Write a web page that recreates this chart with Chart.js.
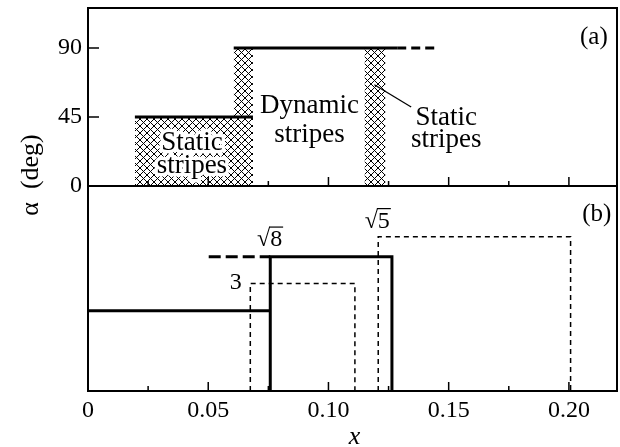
<!DOCTYPE html>
<html>
<head>
<meta charset="utf-8">
<script src="https://cdn.jsdelivr.net/npm/chart.js@4.4.1/dist/chart.umd.min.js"></script>
<style>
  html, body { margin: 0; padding: 0; background: #fff; }
  #wrap { width: 620px; height: 447px; }
</style>
</head>
<body>
<div id="wrap"><canvas id="chart" width="620" height="447"></canvas></div>
<script>
// panel (a): alpha (deg) vs x
const levelLow = [[0.0195, 45], [0.0686, 45]];
const levelHigh = [[0.0606, 90], [0.1286, 90]];
const levelHighDash = [[0.1286, 90], [0.146, 90]];
const hatchLeft = [[0.0195, 45], [0.0686, 45]];
const hatchMid = [[0.0606, 90], [0.0686, 90]];
const hatchRight = [[0.115, 90], [0.1237, 90]];
const leader = [[0.1191, 66], [0.1344, 51.5]];

// panel (b): stability boundaries (arbitrary units)
const solidLow = [[0, 0.392], [0.0758, 0.392]];
const solidBox = [[0.0758, 0], [0.0758, 0.655], [0.1264, 0.655], [0.1264, 0]];
const solidDash = [[0.0502, 0.655], [0.0758, 0.655]];
const box3 = [[0.0675, 0], [0.0675, 0.525], [0.111, 0.525], [0.111, 0]];
const boxSqrt5 = [[0.1207, 0], [0.1207, 0.753], [0.2007, 0.753], [0.2007, 0]];

const xTicks = [0, 0.025, 0.05, 0.075, 0.1, 0.125, 0.15, 0.175, 0.2];
const xTickLabels = ['0', '', '0.05', '', '0.10', '', '0.15', '', '0.20'];
const alphaTicks = [0, 45, 90];

const SERIF = '"Liberation Serif", "Times New Roman", serif';
const tickFont = { family: SERIF, size: 24 };

function makeHatch() {
  const c = document.createElement('canvas');
  c.width = 7; c.height = 7;
  const g = c.getContext('2d');
  g.strokeStyle = '#000';
  g.lineWidth = 1;
  g.beginPath();
  g.moveTo(-1, -1); g.lineTo(8, 8);
  g.moveTo(8, -1); g.lineTo(-1, 8);
  g.stroke();
  return g.createPattern(c, 'repeat');
}
const hatch = makeHatch();

const pts = arr => arr.map(([x, y]) => ({ x, y }));

function line(data, axis, extra) {
  return Object.assign({
    data: pts(data), yAxisID: axis, borderColor: '#000', borderWidth: 3,
    pointRadius: 0, fill: false, tension: 0
  }, extra);
}
function area(data) {
  return {
    data: pts(data), yAxisID: 'ya', borderColor: 'rgba(0,0,0,0)', borderWidth: 0,
    backgroundColor: hatch, pointRadius: 0, fill: 'origin', tension: 0
  };
}

// text in data coordinates
function txt(ctx, s, x, y, axis, chart, font, align) {
  const px = chart.scales.x.getPixelForValue(x);
  const py = chart.scales[axis].getPixelForValue(y);
  ctx.font = font;
  ctx.textAlign = align || 'center';
  ctx.fillStyle = '#000';
  ctx.fillText(s, px, py);
}
function haloTxt(ctx, s, x, y, chart, font) {
  const px = chart.scales.x.getPixelForValue(x);
  const py = chart.scales.ya.getPixelForValue(y);
  ctx.font = font;
  ctx.textAlign = 'center';
  ctx.lineJoin = 'round';
  ctx.strokeStyle = '#fff';
  ctx.lineWidth = 7;
  ctx.strokeText(s, px, py);
  ctx.fillStyle = '#000';
  ctx.fillText(s, px, py);
}
function rootTxt(ctx, n, x, y, chart) {
  ctx.font = '24px ' + SERIF;
  const px = chart.scales.x.getPixelForValue(x);
  const py = chart.scales.yb.getPixelForValue(y);
  const wr = ctx.measureText('\u221A').width;
  const wn = ctx.measureText(n).width;
  const left = px - (wr + wn) / 2;
  ctx.textAlign = 'left';
  ctx.fillStyle = '#000';
  ctx.fillText('\u221A', left, py);
  ctx.fillText(n, left + wr, py);
  const asc = ctx.measureText('\u221A').actualBoundingBoxAscent;
  ctx.strokeStyle = '#000';
  ctx.lineWidth = 1.2;
  ctx.beginPath();
  ctx.moveTo(left + wr - 1, py - asc + 0.6);
  ctx.lineTo(left + wr + wn + 1, py - asc + 0.6);
  ctx.stroke();
}

const decor = {
  id: 'decor',
  afterDatasetsDraw(chart) {
    const ctx = chart.ctx;
    ctx.save();
    ctx.textBaseline = 'alphabetic';
    const big = '27px ' + SERIF;
    haloTxt(ctx, 'Static', 0.0432, 23.5, chart, big);
    haloTxt(ctx, 'stripes', 0.0432, 8.5, chart, big);
    txt(ctx, 'Dynamic', 0.0921, 47.6, 'ya', chart, big);
    txt(ctx, 'stripes', 0.0921, 29, 'ya', chart, big);
    txt(ctx, 'Static', 0.149, 39.8, 'ya', chart, big);
    txt(ctx, 'stripes', 0.149, 25.4, 'ya', chart, big);
    ctx.textBaseline = 'middle';
    txt(ctx, '(a)', 0.2104, 96.5, 'ya', chart, '25px ' + SERIF);
    txt(ctx, '(b)', 0.2116, 0.863, 'yb', chart, '25px ' + SERIF);
    txt(ctx, '3', 0.0614, 0.527, 'yb', chart, '24px ' + SERIF);
    ctx.textBaseline = 'alphabetic';
    rootTxt(ctx, '8', 0.0755, 0.705, chart);
    rootTxt(ctx, '5', 0.1203, 0.795, chart);
    ctx.restore();
  },
  afterDraw(chart) {
    const ctx = chart.ctx;
    const a = chart.chartArea;
    const xs = chart.scales.x, ya = chart.scales.ya, yb = chart.scales.yb;
    ctx.save();
    ctx.strokeStyle = '#000';
    ctx.lineWidth = 2;
    ctx.strokeRect(a.left, a.top, a.right - a.left, a.bottom - a.top);
    ctx.beginPath();
    ctx.moveTo(a.left, ya.bottom);
    ctx.lineTo(a.right, ya.bottom);
    ctx.stroke();
    // inward ticks
    ctx.lineWidth = 1.5;
    ctx.beginPath();
    xTicks.forEach((v, i) => {
      const px = xs.getPixelForValue(v);
      const len = xTickLabels[i] ? 9 : 5;
      [ya.bottom, yb.bottom].forEach(b => {
        ctx.moveTo(px, b);
        ctx.lineTo(px, b - len);
      });
    });
    alphaTicks.filter(v => v > 0).forEach(v => {
      const py = ya.getPixelForValue(v);
      ctx.moveTo(a.left, py);
      ctx.lineTo(a.left + 11, py);
    });
    ctx.stroke();
    // axis titles
    ctx.fillStyle = '#000';
    ctx.textAlign = 'center';
    ctx.textBaseline = 'middle';
    ctx.font = 'italic 26px ' + SERIF;
    ctx.fillText('x', (a.left + a.right) / 2 + 2, 437);
    ctx.translate(31, 175);
    ctx.rotate(-Math.PI / 2);
    ctx.font = '26px ' + SERIF;
    ctx.fillText('\u03B1  (deg)', 0, 0);
    ctx.restore();
  }
};

function draw() {
  new Chart(document.getElementById('chart'), {
    type: 'line',
    data: {
      datasets: [
        area(hatchLeft),
        area(hatchMid),
        area(hatchRight),
        line(levelLow, 'ya'),
        line(levelHigh, 'ya'),
        line(levelHighDash, 'ya', { borderDash: [9, 5] }),
        line(leader, 'ya', { borderWidth: 1.3 }),
        line(solidLow, 'yb'),
        line(solidBox, 'yb'),
        line(solidDash, 'yb', { borderDash: [12, 5] }),
        line(box3, 'yb', { borderWidth: 1.5, borderDash: [5, 4] }),
        line(boxSqrt5, 'yb', { borderWidth: 1.5, borderDash: [5, 4] })
      ]
    },
    options: {
      responsive: false,
      animation: false,
      devicePixelRatio: 1,
      layout: { padding: { top: 8, right: 3, left: 0, bottom: 0 } },
      plugins: { legend: { display: false }, tooltip: { enabled: false } },
      scales: {
        x: {
          type: 'linear', min: 0, max: 0.22,
          afterBuildTicks: s => { s.ticks = xTicks.map(v => ({ value: v })); },
          afterFit: s => { s.height = 56; s.paddingLeft = 0; s.paddingRight = 0; },
          ticks: {
            callback: (v, i) => xTickLabels[i], font: tickFont, color: '#000',
            padding: 5, maxRotation: 0, autoSkip: false
          },
          grid: { display: false, drawTicks: false },
          border: { display: false }
        },
        yb: {
          type: 'linear', position: 'left', stack: 'panels', stackWeight: 205,
          min: 0, max: 1,
          afterFit: s => { s.width = 88; s.paddingTop = 0; s.paddingBottom = 0; },
          ticks: { display: false },
          grid: { display: false, drawTicks: false },
          border: { display: false }
        },
        ya: {
          type: 'linear', position: 'left', stack: 'panels', stackWeight: 178,
          min: 0, max: 116,
          afterBuildTicks: s => { s.ticks = alphaTicks.map(v => ({ value: v })); },
          afterFit: s => { s.width = 88; s.paddingTop = 0; s.paddingBottom = 0; },
          ticks: { font: tickFont, color: '#000', padding: 6 },
          grid: { display: false, drawTicks: false },
          border: { display: false }
        }
      }
    },
    plugins: [decor]
  });
}

document.fonts.load('22px "Liberation Serif"').then(draw, draw);
</script>
</body>
</html>
